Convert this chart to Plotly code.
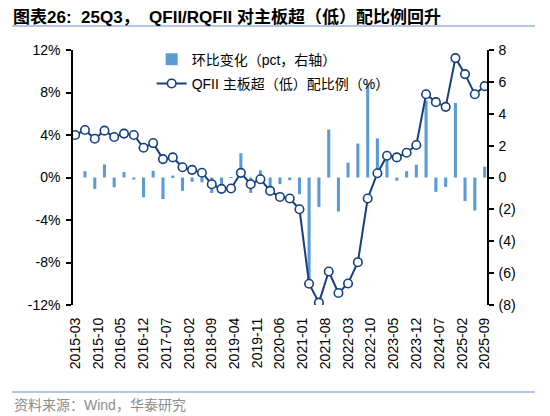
import plotly.graph_objects as go

# quarterly observations, 2015Q1 - 2025Q3
quarters = [
    "2015-03", "2015-06", "2015-09", "2015-12",
    "2016-03", "2016-06", "2016-09", "2016-12",
    "2017-03", "2017-06", "2017-09", "2017-12",
    "2018-03", "2018-06", "2018-09", "2018-12",
    "2019-03", "2019-06", "2019-09", "2019-12",
    "2020-03", "2020-06", "2020-09", "2020-12",
    "2021-03", "2021-06", "2021-09", "2021-12",
    "2022-03", "2022-06", "2022-09", "2022-12",
    "2023-03", "2023-06", "2023-09", "2023-12",
    "2024-03", "2024-06", "2024-09", "2024-12",
    "2025-03", "2025-06", "2025-09",
]

# QFII over/under-weight on main board, %
overweight = [
    4.0, 4.47, 3.65, 4.41,
    3.81, 4.13, 4.0, 2.80,
    3.24, 1.73, 1.89, 0.96,
    0.72, 0.45, -0.63, -1.07,
    -1.04, 0.44, -0.63, -0.16,
    -1.26, -1.83, -1.98, -2.99,
    -10.0, -11.78, -8.85, -10.87,
    -9.98, -7.97, -1.98, 0.40,
    2.05, 1.89, 2.33, 3.06,
    7.84, 7.09, 6.65, 11.24,
    9.73, 7.84, 8.6,
]

# quarter-on-quarter change, pct (right axis)
qoq_change = [
    None, 0.40, -0.72, 0.82,
    -0.61, 0.34, -0.13, -1.24,
    0.42, -1.35, 0.12, -0.84,
    -0.27, -0.30, -0.97, -0.40,
    0.03, 1.52, -0.97, 0.45,
    -0.90, -0.42, -0.17, -1.05,
    -6.9, -1.85, 3.0, -2.13,
    0.93, 2.13, 5.9, 2.45,
    1.6, -0.2, 0.4, 0.8,
    4.83, -0.9, -0.59, 4.68,
    -1.48, -2.07, 0.68,
]

x_ticks = [
    "2015-03", "2015-10", "2016-05", "2016-12", "2017-07", "2018-02",
    "2018-09", "2019-04", "2019-11", "2020-06", "2021-01", "2021-08",
    "2022-03", "2022-10", "2023-05", "2023-12", "2024-07", "2025-02",
    "2025-09",
]
left_ticks = [-12, -8, -4, 0, 4, 8, 12]
left_text = ["-12%", "-8%", "-4%", "0%", "4%", "8%", "12%"]
right_ticks = [-8, -6, -4, -2, 0, 2, 4, 6, 8]
right_text = ["(8)", "(6)", "(4)", "(2)", "0", "2", "4", "6", "8"]

FONT = "Liberation Sans, Arial, Noto Sans CJK SC"
x_dates = [q + "-01" for q in quarters]
tick_dates = [t + "-01" for t in x_ticks]
x_range = ["2015-02-09", "2025-09-23"]

# page body has an 8px margin, so the figure is a bit smaller than the window
W, H = 542, 408

fig = go.Figure()

fig.add_trace(go.Bar(
    x=x_dates, y=qoq_change,
    name="环比变化（pct，右轴）",
    legendgroup="a",
    marker=dict(color="#5B9BD5", line=dict(width=0)),
    xaxis="x", yaxis="y",
))

fig.add_trace(go.Scatter(
    x=x_dates, y=overweight,
    name="QFII 主板超（低）配比例（%）",
    legendgroup="b",
    mode="lines+markers",
    line=dict(color="#16407E", width=2),
    marker=dict(size=8.5, color="white", line=dict(color="#16407E", width=1.6)),
    xaxis="x", yaxis="y2",
))

fig.update_layout(
    width=W, height=H, autosize=False,
    margin=dict(l=65, r=63, t=42, b=111),
    paper_bgcolor="white", plot_bgcolor="white",
    font=dict(family=FONT, size=14, color="black"),
    bargap=0.68,
    showlegend=True,
    legend=dict(x=0.19, y=1.025, xanchor="left", yanchor="top",
                bgcolor="rgba(0,0,0,0)", font=dict(size=14),
                traceorder="grouped", tracegroupgap=3),
    title=dict(text="<b>图表26:  25Q3，  QFII/RQFII 对主板超（低）配比例回升</b>",
               x=5 / W, xanchor="left", y=1 - 9 / H, yanchor="middle",
               font=dict(size=17, color="black")),
    xaxis=dict(type="date", range=x_range, tickvals=tick_dates, ticktext=x_ticks,
               tickangle=-90, showline=False, ticks="", showgrid=False,
               zeroline=False, tickfont=dict(size=14), ticklabelstandoff=9),
    xaxis2=dict(type="date", range=x_range, overlaying="x", anchor="free",
                position=0.5, tickvals=tick_dates, showticklabels=False,
                showline=True, linecolor="black", linewidth=1.5,
                ticks="outside", ticklen=4, tickcolor="black", tickwidth=1.5,
                showgrid=False, zeroline=False),
    yaxis=dict(side="right", range=[-8, 8], tickvals=right_ticks, ticktext=right_text,
               showline=True, linecolor="black", linewidth=1.5, ticks="outside",
               ticklen=5, tickcolor="black", tickwidth=1.5, showgrid=False,
               zeroline=False, ticklabelstandoff=2),
    yaxis2=dict(overlaying="y", side="left", range=[-12, 12], tickvals=left_ticks,
                ticktext=left_text, showline=True, linecolor="black", linewidth=1.5,
                ticks="outside", ticklen=5, tickcolor="black", tickwidth=1.5,
                showgrid=False, zeroline=False, ticklabelstandoff=3),
)

# header / footer rules and source note (paper coords from window pixels)
def px_x(v):
    return (v - 73) / 414

def px_y(v):
    return (305 - v) / 255

for yy in (26, 392):
    fig.add_shape(type="line", xref="paper", yref="paper",
                  x0=px_x(12), x1=px_x(535), y0=px_y(yy), y1=px_y(yy),
                  line=dict(color="#9DB5D3", width=1.5))
fig.add_annotation(text="资料来源：Wind，华泰研究", xref="paper", yref="paper",
                   x=px_x(12), y=px_y(405), xanchor="left",
                   yanchor="middle", showarrow=False,
                   font=dict(size=14, color="#8C8C8C"))

fig.write_html("out.html")
